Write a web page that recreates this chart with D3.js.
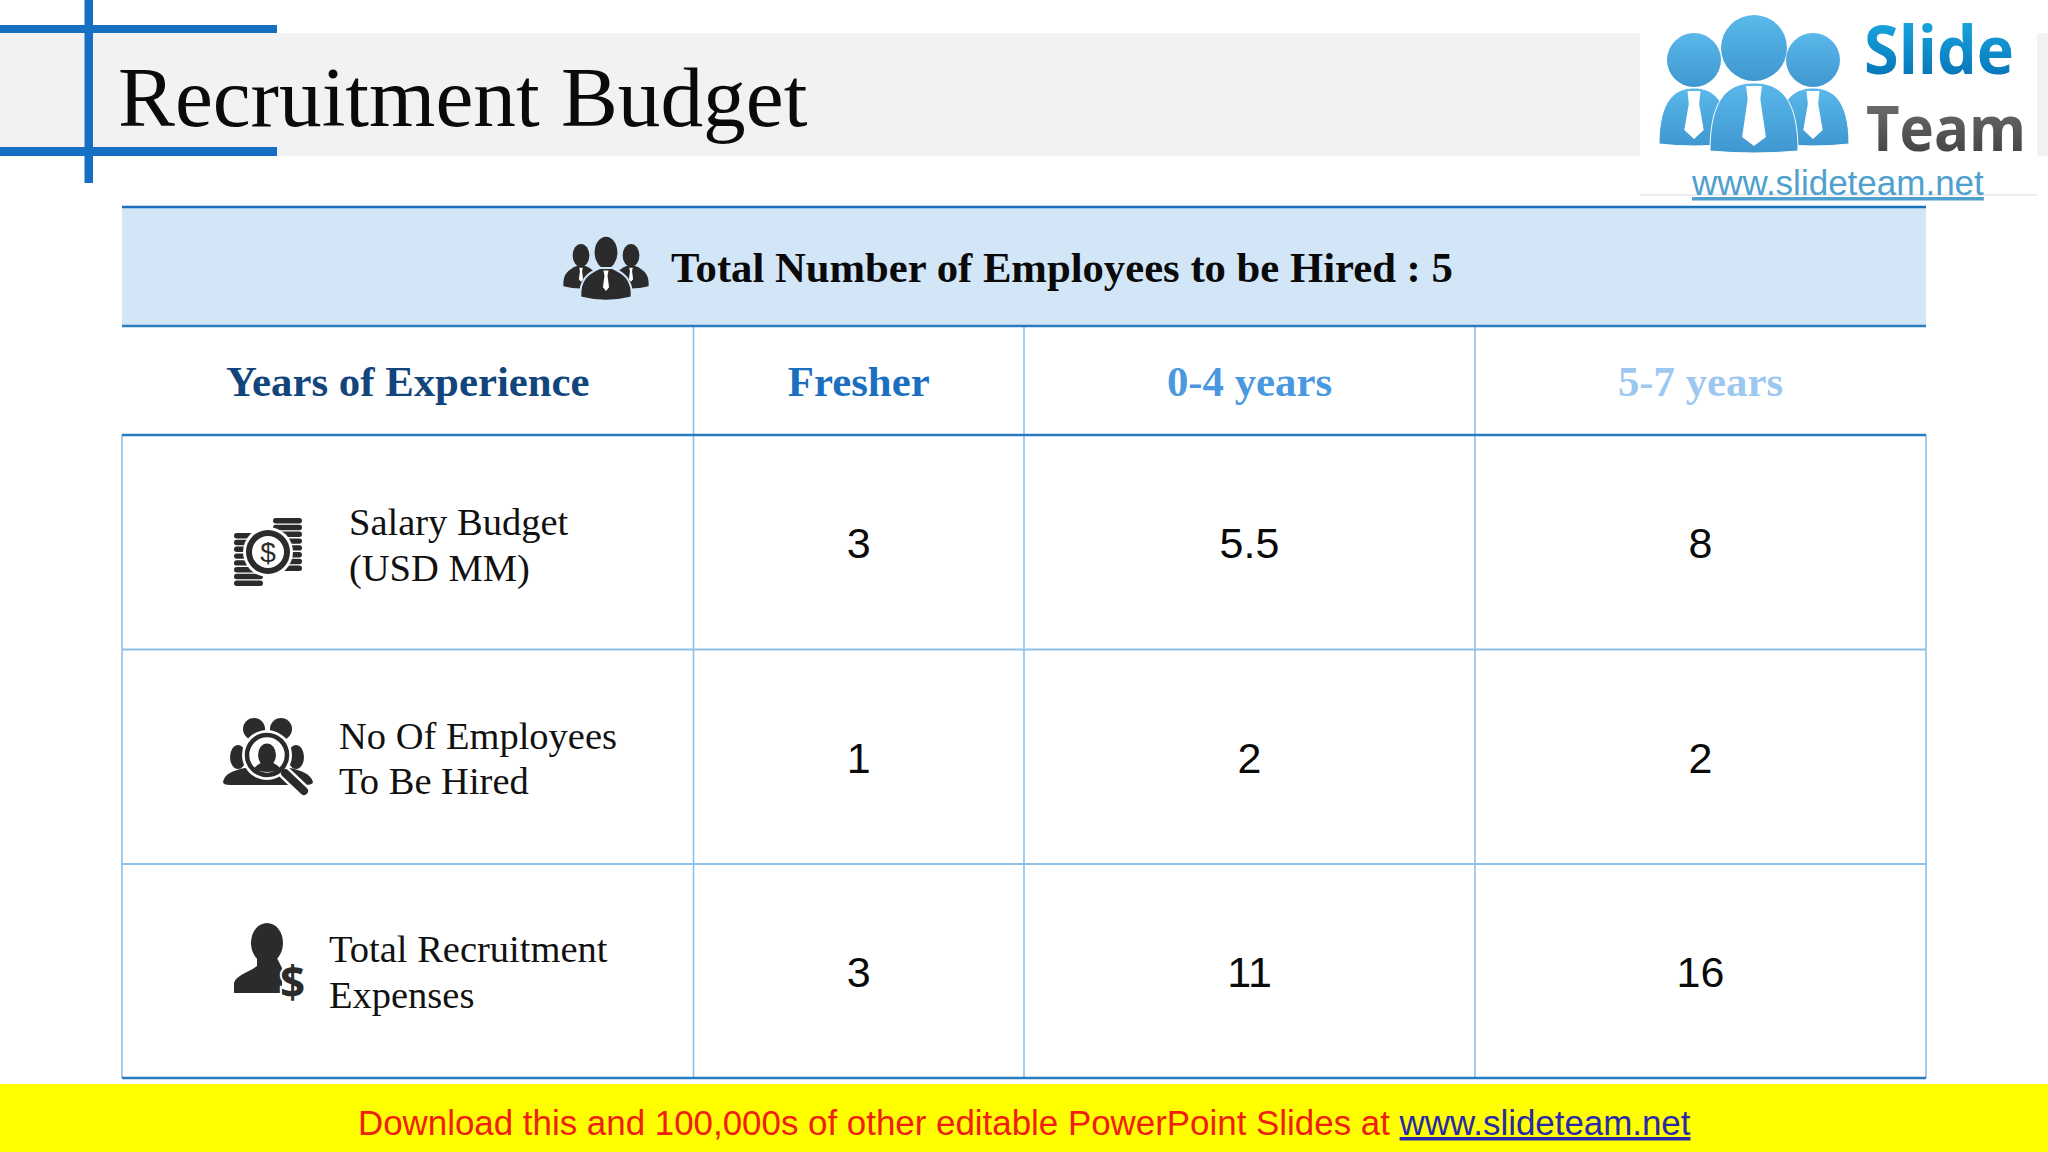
<!DOCTYPE html>
<html>
<head>
<meta charset="utf-8">
<title>Recruitment Budget</title>
<script src="https://cdn.jsdelivr.net/npm/d3@7"></script>
<style>
  html, body { margin: 0; padding: 0; background: #fff; }
  svg { display: block; }
</style>
</head>
<body>
<div id="chart"></div>
<script>
// data
const pageTitle = "Recruitment Budget";
const bandTitle = "Total Number of Employees to be Hired : 5";
const headers = ["Years of Experience", "Fresher", "0-4 years", "5-7 years"];
const salaryBudget = ["3", "5.5", "8"];
const employeesToHire = ["1", "2", "2"];
const totalExpenses = ["3", "11", "16"];
const rowLabels = [
    ["Salary Budget", "(USD MM)"],
    ["No Of Employees", "To Be Hired"],
    ["Total Recruitment", "Expenses"]
];
const rowValues = [salaryBudget, employeesToHire, totalExpenses];

const W = 2048, H = 1152;
const dark = "#2b2b2b";
const bandFill = "#d2e6f8";

const svg = d3.select("#chart").append("svg")
    .attr("width", W)
    .attr("height", H)
    .attr("viewBox", `0 0 ${W} ${H}`);

// table grid: index -> edge, not evenly spaced so piecewise scales
const colEdge = d3.scaleLinear().domain([0, 1, 2, 3, 4]).range([122, 693.5, 1024, 1475, 1926]);
const rowEdge = d3.scaleLinear().domain([0, 1, 2, 3, 4, 5]).range([207, 326, 435, 649.5, 864, 1078]);
const colMid = i => (colEdge(i) + colEdge(i + 1)) / 2;
const rowMid = i => (rowEdge(i) + rowEdge(i + 1)) / 2;

// title bar
svg.append("rect").attr("x", 0).attr("y", 33).attr("width", W).attr("height", 123).attr("fill", "#f2f2f4");
const cross = svg.append("g").attr("fill", "#1570c4");
cross.append("rect").attr("x", 0).attr("y", 25).attr("width", 277).attr("height", 8);
cross.append("rect").attr("x", 0).attr("y", 147).attr("width", 277).attr("height", 9);
cross.append("rect").attr("x", 84.5).attr("y", 0).attr("width", 8.5).attr("height", 183);

svg.append("text")
    .attr("x", 118).attr("y", 126)
    .attr("font-family", "'Liberation Serif'")
    .attr("font-size", 85.3)
    .attr("fill", "#0a0a0a")
    .text(pageTitle);

// band above the table
svg.append("rect")
    .attr("x", colEdge(0)).attr("y", rowEdge(0))
    .attr("width", colEdge(4) - colEdge(0)).attr("height", rowEdge(1) - rowEdge(0))
    .attr("fill", bandFill);

svg.append("text")
    .attr("x", 671).attr("y", 282)
    .attr("font-family", "'Liberation Serif'")
    .attr("font-weight", "bold")
    .attr("font-size", 42.7)
    .attr("fill", "#0a0a0a")
    .text(bandTitle);

// header row
const headerColors = ["#11457c", "#1b6fc0", "#4a98e0", "#9cc8f0"];
svg.selectAll("text.header")
    .data(headers)
    .enter().append("text")
    .attr("class", "header")
    .attr("x", (d, i) => colMid(i))
    .attr("y", rowMid(1) + 15.5)
    .attr("text-anchor", "middle")
    .attr("font-family", "'Liberation Serif'")
    .attr("font-weight", "bold")
    .attr("font-size", 42.8)
    .attr("fill", (d, i) => headerColors[i])
    .text(d => d);

// values
rowValues.forEach((vals, r) => {
    svg.selectAll(`text.val${r}`)
        .data(vals)
        .enter().append("text")
        .attr("class", `val${r}`)
        .attr("x", (d, i) => colMid(i + 1))
        .attr("y", rowMid(r + 2) + 16)
        .attr("text-anchor", "middle")
        .attr("font-family", "'Liberation Sans'")
        .attr("font-size", 43)
        .attr("fill", "#0a0a0a")
        .text(d => d);
});

// row labels
const labelX = [349, 339, 329];
const labelY = [-7, -8, -9];
rowLabels.forEach((lines, r) => {
    svg.append("text")
        .attr("font-family", "'Liberation Serif'")
        .attr("font-size", 38.5)
        .attr("fill", "#111")
        .selectAll("tspan")
        .data(lines)
        .enter().append("tspan")
        .attr("x", labelX[r])
        .attr("y", (d, i) => rowMid(r + 2) + labelY[r] + i * 45.5)
        .text(d => d);
});

// grid lines
const hLines = [
    { i: 0, c: "#1c6fb8", w: 2.5 }, { i: 1, c: "#2a7cc0", w: 2.5 }, { i: 2, c: "#2a7cc0", w: 2.5 },
    { i: 3, c: "#8fc0e8", w: 2 }, { i: 4, c: "#8fc0e8", w: 2 }, { i: 5, c: "#2a7cc0", w: 2.5 }
];
svg.selectAll("line.v")
    .data([0, 1, 2, 3, 4])
    .enter().append("line")
    .attr("class", "v")
    .attr("x1", d => colEdge(d)).attr("x2", d => colEdge(d))
    .attr("y1", d => (d === 0 || d === 4) ? rowEdge(2) : rowEdge(1))
    .attr("y2", rowEdge(5))
    .attr("stroke", "#8fc0e8").attr("stroke-width", 1.6);

svg.selectAll("line.h")
    .data(hLines)
    .enter().append("line")
    .attr("class", "h")
    .attr("x1", colEdge(0)).attr("x2", colEdge(4))
    .attr("y1", d => rowEdge(d.i)).attr("y2", d => rowEdge(d.i))
    .attr("stroke", d => d.c).attr("stroke-width", d => d.w);

// icons
function person(g, cx, top, s, halo) {
    // head + shoulders, white tie
    g.append("ellipse").attr("cx", cx).attr("cy", top + 13 * s).attr("rx", 9.5 * s).attr("ry", 13 * s)
        .attr("fill", dark).attr("stroke", halo).attr("stroke-width", 1.5);
    g.append("path")
        .attr("fill", dark)
        .attr("stroke", halo).attr("stroke-width", 2)
        .attr("d", `M${cx - 20 * s},${top + 48 * s} C${cx - 21 * s},${top + 34 * s} ${cx - 14 * s},${top + 29 * s} ${cx - 5 * s},${top + 25 * s} L${cx + 5 * s},${top + 25 * s} C${cx + 14 * s},${top + 29 * s} ${cx + 21 * s},${top + 34 * s} ${cx + 20 * s},${top + 48 * s} Q${cx},${top + 53 * s} ${cx - 20 * s},${top + 48 * s} Z`);
    g.append("path")
        .attr("fill", "#fff")
        .attr("d", `M${cx - 2 * s},${top + 27 * s} L${cx + 2 * s},${top + 27 * s} L${cx + 1.2 * s},${top + 31 * s} L${cx + 2.4 * s},${top + 40 * s} L${cx},${top + 43 * s} L${cx - 2.4 * s},${top + 40 * s} L${cx - 1.2 * s},${top + 31 * s} Z`);
}

const teamIcon = svg.append("g");
person(teamIcon, 581, 244, 0.88, "none");
person(teamIcon, 631, 244, 0.88, "none");
person(teamIcon, 606, 236, 1.28, bandFill);

// coins icon
const coins = svg.append("g").attr("fill", dark);
d3.range(8).forEach(i => {
    coins.append("rect").attr("x", 273).attr("y", 518 + i * 6.8).attr("width", 29).attr("height", 5.4).attr("rx", 2.7);
    coins.append("rect").attr("x", 234).attr("y", 533 + i * 6.8).attr("width", 29).attr("height", 5.4).attr("rx", 2.7);
});
coins.append("circle").attr("cx", 268).attr("cy", 552).attr("r", 25).attr("fill", "#fff");
coins.append("circle").attr("cx", 268).attr("cy", 552).attr("r", 22);
coins.append("circle").attr("cx", 268).attr("cy", 552).attr("r", 16).attr("fill", "#fff");
coins.append("text").attr("x", 268).attr("y", 562).attr("text-anchor", "middle")
    .attr("font-family", "'Liberation Sans'").attr("font-size", 28).text("$");

// people under a magnifier
const seeker = svg.append("g").attr("fill", dark);
seeker.append("ellipse").attr("cx", 254).attr("cy", 729).attr("rx", 11).attr("ry", 11);
seeker.append("ellipse").attr("cx", 281).attr("cy", 729).attr("rx", 11).attr("ry", 11);
seeker.append("ellipse").attr("cx", 238).attr("cy", 757).attr("rx", 8).attr("ry", 12);
seeker.append("ellipse").attr("cx", 296).attr("cy", 757).attr("rx", 8).attr("ry", 12);
seeker.append("path").attr("d", "M223,782 C224,774 234,770 245,768 L290,768 C300,770 311,774 313,782 Q313,785 305,785 L230,785 Q223,785 223,782 Z");
seeker.append("circle").attr("cx", 267).attr("cy", 755).attr("r", 25).attr("fill", "#fff");
seeker.append("circle").attr("cx", 267).attr("cy", 755).attr("r", 20).attr("fill", "none").attr("stroke", dark).attr("stroke-width", 4.5);
seeker.append("ellipse").attr("cx", 267).attr("cy", 755).attr("rx", 9).attr("ry", 11.5);
seeker.append("path").attr("d", "M253,770 C256,765 260,764 262,762 L272,762 C274,764 279,765 281,770 Q267,774 253,770 Z");
seeker.append("line").attr("x1", 284).attr("y1", 772).attr("x2", 305).attr("y2", 792)
    .attr("stroke", "#fff").attr("stroke-width", 13);
seeker.append("line").attr("x1", 285).attr("y1", 773).attr("x2", 304).attr("y2", 791)
    .attr("stroke", dark).attr("stroke-width", 8).attr("stroke-linecap", "round");

// person with dollar sign
const payer = svg.append("g").attr("fill", dark);
payer.append("ellipse").attr("cx", 267).attr("cy", 943).attr("rx", 16).attr("ry", 20);
payer.append("path").attr("d", "M257,958 L257,966 C250,972 236,975 234,983 L234,993 L282,993 L282,968 L277,958 Z");
payer.append("text").attr("x", 292.5).attr("y", 998).attr("text-anchor", "middle")
    .attr("font-family", "'Open Sans'").attr("font-weight", "bold").attr("font-size", 44)
    .attr("stroke", "#fff").attr("stroke-width", 4).attr("paint-order", "stroke").text("$");

// logo
const defs = svg.append("defs");
function vGrad(id, top, bottom) {
    const g = defs.append("linearGradient").attr("id", id).attr("x1", 0).attr("y1", 0).attr("x2", 0).attr("y2", 1);
    g.append("stop").attr("offset", 0).attr("stop-color", top);
    g.append("stop").attr("offset", 1).attr("stop-color", bottom);
}
vGrad("slideGrad", "#1fb4ea", "#0068ad");
vGrad("teamGrad", "#7b7b7b", "#383838");
vGrad("headGrad", "#5ab8ea", "#3f97d0");

const logo = svg.append("g");
logo.append("rect").attr("x", 1640).attr("y", 0).attr("width", 397).attr("height", 195).attr("fill", "#fff");
logo.append("line").attr("x1", 1640).attr("x2", 2037).attr("y1", 195).attr("y2", 195).attr("stroke", "#ddd");

function logoPerson(cx, headY, r, bodyTop, bodyW, bottom) {
    logo.append("circle").attr("cx", cx).attr("cy", headY).attr("r", r).attr("fill", "url(#headGrad)");
    logo.append("path")
        .attr("fill", "url(#headGrad)")
        .attr("stroke", "#fff").attr("stroke-width", 1)
        .attr("d", `M${cx - bodyW},${bottom} C${cx - bodyW},${bodyTop + 10} ${cx - bodyW / 2},${bodyTop} ${cx},${bodyTop} C${cx + bodyW / 2},${bodyTop} ${cx + bodyW},${bodyTop + 10} ${cx + bodyW},${bottom} Q${cx},${bottom + 4} ${cx - bodyW},${bottom} Z`);
    const tw = r * 0.24;
    logo.append("path")
        .attr("fill", "#fff")
        .attr("d", `M${cx - tw},${bodyTop + 3} L${cx + tw},${bodyTop + 3} L${cx + tw * 0.8},${bodyTop + 16} L${cx + tw * 1.5},${bottom - 14} L${cx},${bottom - 5} L${cx - tw * 1.5},${bottom - 14} L${cx - tw * 0.8},${bodyTop + 16} Z`);
}
logoPerson(1694, 60, 27, 88, 35, 144);
logoPerson(1813, 60, 27, 88, 36, 144);
logoPerson(1754, 48, 33, 83, 44, 151);

logo.append("text").attr("x", 1864).attr("y", 74)
    .attr("font-family", "'Open Sans'").attr("font-weight", "bold").attr("font-size", 66)
    .attr("textLength", 150).attr("lengthAdjust", "spacingAndGlyphs")
    .attr("fill", "url(#slideGrad)").text("Slide");
logo.append("text").attr("x", 1866).attr("y", 151)
    .attr("font-family", "'Open Sans'").attr("font-weight", "bold").attr("font-size", 63)
    .attr("textLength", 160).attr("lengthAdjust", "spacingAndGlyphs")
    .attr("fill", "url(#teamGrad)").text("Team");
logo.append("text").attr("x", 1692).attr("y", 195)
    .attr("font-family", "'Liberation Sans'").attr("font-size", 35)
    .attr("fill", "#4f9fcf").attr("text-decoration", "underline")
    .text("www.slideteam.net");

// download strip
svg.append("rect").attr("x", 0).attr("y", 1084).attr("width", W).attr("height", 68).attr("fill", "#ffff00");
const strip = svg.append("text")
    .attr("x", 358).attr("y", 1135)
    .attr("font-family", "'Liberation Sans'")
    .attr("font-size", 34.9)
    .attr("fill", "#f02010");
strip.append("tspan").text("Download this and 100,000s of other editable PowerPoint Slides at ");
strip.append("tspan").attr("fill", "#2a2aa8").attr("text-decoration", "underline").text("www.slideteam.net");
</script>
</body>
</html>
